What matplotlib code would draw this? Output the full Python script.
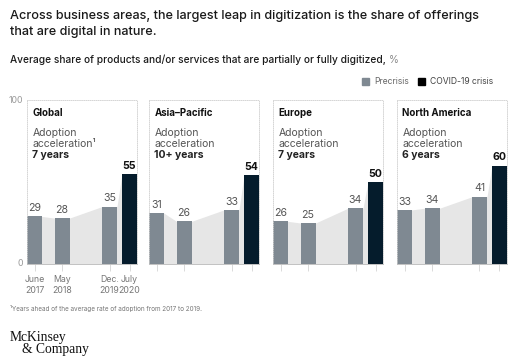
import matplotlib.pyplot as plt
import numpy as np

plt.rcParams['font.family'] = ['Inter', 'DejaVu Sans']

regions = ['Global', 'Asia\u2013Pacific', 'Europe', 'North America']
accel_years = ['7 years', '10+ years', '7 years', '6 years']
date_labels = ['June\n2017', 'May\n2018', 'Dec.\n2019', 'July\n2020']
values = {
    'Global': [29, 28, 35, 55],
    'Asia\u2013Pacific': [31, 26, 33, 54],
    'Europe': [26, 25, 34, 50],
    'North America': [33, 34, 41, 60],
}

# horizontal slot of each survey date (roughly in months)
slots = [0, 11, 30, 38]

PRE = '#7f8992'
COVID = '#051c2c'
AREA = '#e6e6e6'
FRAME = '#cfcfcf'
W, H = 532, 357

fig = plt.figure(figsize=(W / 100, H / 100), dpi=100)

fig.text(10 / W, 1 - 10 / H,
         'Across business areas, the largest leap in digitization is the share of offerings\nthat are digital in nature.',
         fontsize=9.1, fontweight='medium', va='top', ha='left', color='#1a1a1a', linespacing=1.4)
fig.text(10 / W, 1 - 60 / H, 'Average share of products and/or services that are partially or fully digitized, ',
         fontsize=7.3, fontweight='medium', va='center', ha='left', color='#1a1a1a')
fig.text(389 / W, 1 - 60 / H, '%', fontsize=7.3, va='center', ha='left', color='#888888')

# legend
fig.patches.append(plt.Rectangle((362 / W, 1 - 85 / H), 7 / W, 7 / H, transform=fig.transFigure, color=PRE))
fig.text(374 / W, 1 - 81.5 / H, 'Precrisis', fontsize=6.2, va='center', color='#666666')
fig.patches.append(plt.Rectangle((418 / W, 1 - 85 / H), 7 / W, 7 / H, transform=fig.transFigure, color='black'))
fig.text(430 / W, 1 - 81.5 / H, 'COVID-19 crisis', fontsize=6.2, va='center', color='#444444')

lefts = [27, 149, 273, 397]
bw = 6
for i, reg in enumerate(regions):
    ax = fig.add_axes([lefts[i] / W, 1 - 264 / H, 110 / W, 164 / H])
    vals = values[reg]
    # background area linking bar tops
    xs, ys = [], []
    for m, v in zip(slots, vals):
        xs += [m - bw / 2, m + bw / 2]
        ys += [v, v]
    ax.fill_between(xs, ys, 0, color=AREA, lw=0, zorder=1)
    colors = [PRE, PRE, PRE, COVID]
    ax.bar(slots, vals, width=bw, color=colors, zorder=2)
    for j, (m, v) in enumerate(zip(slots, vals)):
        ax.text(m, v + 2, str(v), ha='center', va='bottom', fontsize=7.6,
                color='#111111' if j == 3 else '#555555',
                fontweight='bold' if j == 3 else 'normal', zorder=3)
    ax.set_xlim(-bw / 2, slots[-1] + bw / 2)
    ax.set_ylim(0, 100)
    for side in ['top', 'left', 'right']:
        ax.spines[side].set_linestyle((0, (1, 1.5)))
        ax.spines[side].set_color(FRAME)
        ax.spines[side].set_linewidth(0.6)
    ax.spines['bottom'].set_color('#bbbbbb')
    ax.spines['bottom'].set_linewidth(0.6)
    ax.set_yticks([])
    ax.set_xticks(slots)
    ax.tick_params(axis='x', length=5, width=0.5, color='#cccccc', labelsize=6.3,
                   labelcolor='#777777', pad=3)
    if i == 0:
        ax.set_xticklabels(date_labels, linespacing=1.25)
    else:
        ax.set_xticklabels([])
    ax.text(0.05, 0.92, reg, transform=ax.transAxes, fontsize=7, fontweight='bold',
            va='center', ha='left', color='#111111')
    sup = '\u00b9' if i == 0 else ''
    ax.text(0.05, 0.799, 'Adoption', transform=ax.transAxes, fontsize=7.5,
            va='center', ha='left', color='#555555')
    ax.text(0.05, 0.732, 'acceleration' + sup, transform=ax.transAxes, fontsize=7.5,
            va='center', ha='left', color='#555555')
    ax.text(0.05, 0.665, accel_years[i], transform=ax.transAxes, fontsize=7.5,
            fontweight='bold', va='center', ha='left', color='#222222')
    if i == 0:
        ax.text(-0.04, 1.0, '100', transform=ax.transAxes, fontsize=6.3, color='#999999',
                ha='right', va='center')
        ax.text(-0.04, 0.0, '0', transform=ax.transAxes, fontsize=6.3, color='#999999',
                ha='right', va='center')

fig.text(10 / W, 1 - 309 / H, '\u00b9Years ahead of the average rate of adoption from 2017 to 2019.',
         fontsize=4.6, color='#777777', va='center', ha='left')
fig.text(10 / W, 1 - 337 / H, 'McKinsey', family=['Liberation Serif'], fontsize=9.8,
         va='center', ha='left', color='#111111')
fig.text(22 / W, 1 - 350 / H, '& Company', family=['Liberation Serif'], fontsize=9.8,
         va='center', ha='left', color='#111111')

fig.savefig('out.png', dpi=100)
